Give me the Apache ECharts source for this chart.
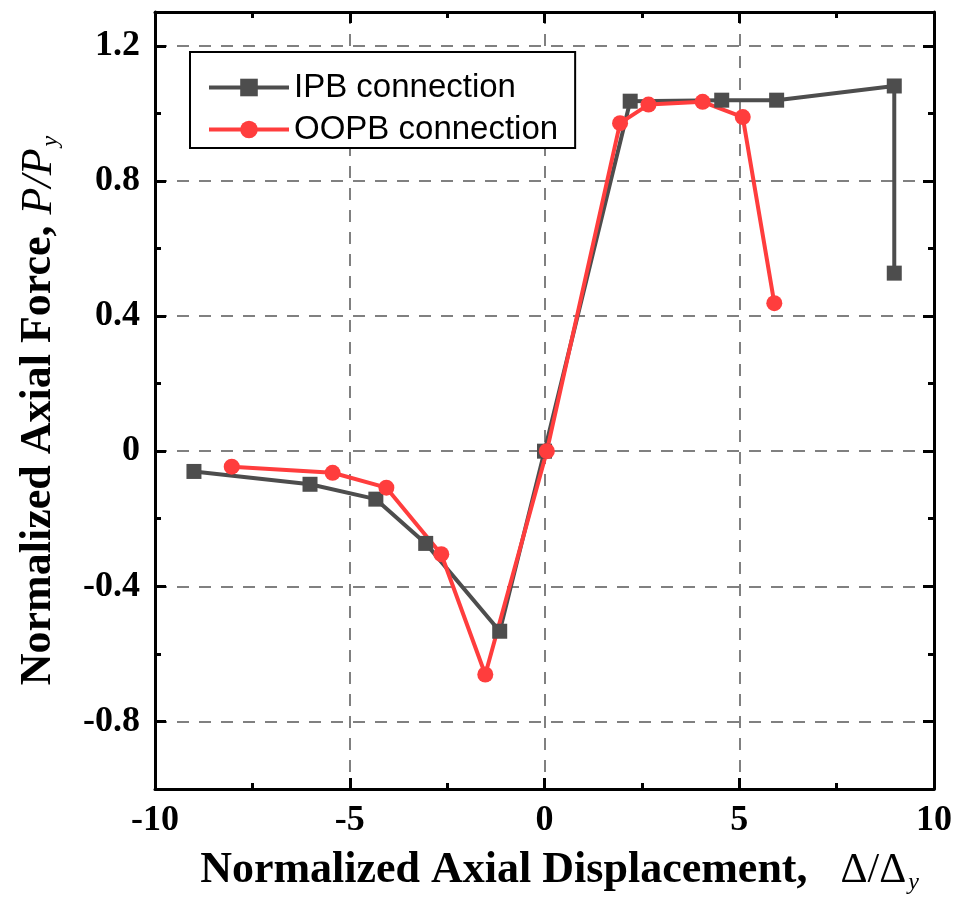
<!DOCTYPE html>
<html>
<head>
<meta charset="utf-8">
<script src="https://cdn.jsdelivr.net/npm/echarts@6/dist/echarts.min.js"></script>
<style>
  html, body { margin: 0; padding: 0; background: #fff; }
  #main { width: 960px; height: 900px; }
</style>
</head>
<body>
<div id="main"></div>
<script>
// 数据：归一化轴向位移 / 轴力
const ipbX = [-9.0, -6.02, -4.33, -3.05, -1.15, 0, 2.20, 4.55, 5.96, 8.98, 8.98]
const ipbY = [-0.060, -0.098, -0.142, -0.273, -0.533, 0, 1.036, 1.039, 1.039, 1.081, 0.527]
const oopbX = [-8.03, -5.44, -4.06, -2.65, -1.52, 0.06, 1.94, 2.67, 4.06, 5.09, 5.90]
const oopbY = [-0.046, -0.064, -0.108, -0.305, -0.661, 0, 0.971, 1.026, 1.034, 0.989, 0.438]

// 刻度
const yMajor = [-0.8, -0.4, 0, 0.4, 0.8, 1.2]
const yMinor = [-0.6, -0.2, 0.2, 0.6, 1.0]
const yMin = -1.0, yMax = 1.3

const black = '#000'
const tickFont = { fontFamily: 'Liberation Serif', fontWeight: 'bold', fontSize: 36, color: black }
const gridLine = { color: '#808080', width: 2, type: [12, 10] }

function pairs(xs, ys) {
  return xs.map((x, i) => [x, ys[i]])
}

// x 轴：下方带标签，上方只画刻度
function xAxisOf(pos, showLabel) {
  return {
    type: 'value', position: pos, min: -10, max: 10, interval: 5,
    axisLine: { show: true, onZero: false, lineStyle: { color: black, width: 3 } },
    axisTick: { show: true, inside: true, length: 11, lineStyle: { color: black, width: 3 } },
    minorTick: { show: true, splitNumber: 2, length: 6, lineStyle: { color: black, width: 3 } },
    axisLabel: Object.assign({ show: showLabel, margin: 14 }, tickFont),
    splitLine: { show: showLabel, lineStyle: gridLine }
  }
}

// y 轴：主刻度 / 次刻度分两根重叠的轴
function yAxisOf(pos, values, len, main) {
  return {
    type: 'value', position: pos, min: yMin, max: yMax,
    axisLine: { show: main, onZero: false, lineStyle: { color: black, width: 3 } },
    axisTick: { show: true, inside: true, length: len, customValues: values, lineStyle: { color: black, width: 3 } },
    axisLabel: Object.assign({ show: main && pos === 'left', margin: 15, customValues: values }, tickFont),
    splitLine: { show: main && pos === 'left', lineStyle: gridLine }
  }
}

const xA = xAxisOf('bottom', true)
xA.name = 'Normalized Axial Displacement,   {d|Δ/Δ}{s|y}'
xA.nameLocation = 'middle'
xA.nameGap = 58
xA.nameTextStyle = {
  fontFamily: 'Liberation Serif', fontWeight: 'bold', fontSize: 44, color: black,
  padding: [0, 0, 0, 30],
  rich: {
    d: { fontFamily: 'Liberation Serif', fontWeight: 'normal', fontSize: 42, color: black },
    s: { fontFamily: 'Liberation Serif', fontStyle: 'italic', fontWeight: 'normal', fontSize: 24, color: black, padding: [24, 0, 0, 2] }
  }
}

const yA = yAxisOf('left', yMajor, 11, true)
yA.name = 'Normalized Axial Force, {i|P/P}{s|y}'
yA.nameLocation = 'middle'
yA.nameGap = 92
yA.nameTextStyle = {
  fontFamily: 'Liberation Serif', fontWeight: 'bold', fontSize: 44, color: black,
  padding: [0, 20, 0, 0],
  rich: {
    i: { fontFamily: 'Liberation Serif', fontStyle: 'italic', fontWeight: 'normal', fontSize: 44, color: black },
    s: { fontFamily: 'Liberation Serif', fontStyle: 'italic', fontWeight: 'normal', fontSize: 24, color: black, padding: [24, 0, 0, 2] }
  }
}

const option = {
  animation: false,
  backgroundColor: '#fff',
  grid: { left: 155, right: 26, top: 12, bottom: 109, containLabel: false },
  legend: {
    data: ['IPB connection', 'OOPB connection'],
    orient: 'vertical',
    left: 190, top: 52,
    padding: [19, 17, 2, 17],
    itemWidth: 80, itemHeight: 22, itemGap: 9,
    borderColor: black, borderWidth: 2, backgroundColor: '#fff',
    lineStyle: { width: 4 },
    textStyle: { fontFamily: 'Liberation Sans', fontSize: 33, color: black, lineHeight: 30 }
  },
  xAxis: [xA, xAxisOf('top', false)],
  yAxis: [
    yA,
    yAxisOf('left', yMinor, 6, false),
    yAxisOf('right', yMajor, 11, true),
    yAxisOf('right', yMinor, 6, false)
  ],
  series: [
    {
      name: 'IPB connection', type: 'line', xAxisIndex: 0, yAxisIndex: 0,
      data: pairs(ipbX, ipbY),
      symbol: 'rect', symbolSize: 15,
      color: '#4d4d4d',
      lineStyle: { width: 4, color: '#4d4d4d' },
      itemStyle: { color: '#4d4d4d' }
    },
    {
      name: 'OOPB connection', type: 'line', xAxisIndex: 0, yAxisIndex: 0,
      data: pairs(oopbX, oopbY),
      symbol: 'circle', symbolSize: 16,
      color: '#ff3d3d',
      lineStyle: { width: 4, color: '#ff3d3d' },
      itemStyle: { color: '#ff3d3d' }
    }
  ]
}

const chart = echarts.init(document.getElementById('main'))
chart.setOption(option)
</script>
</body>
</html>
